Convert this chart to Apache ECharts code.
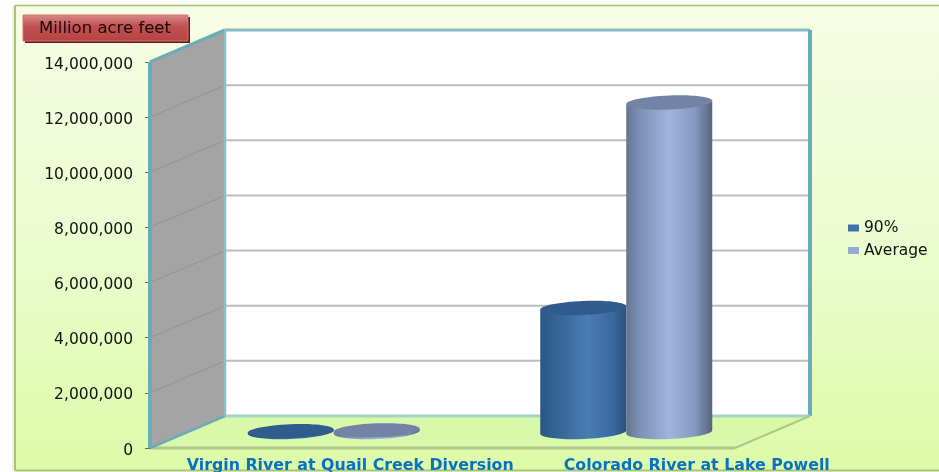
<!DOCTYPE html>
<html><head><meta charset="utf-8">
<style>html,body{margin:0;padding:0;background:#fff}#c{width:939px;height:472px;filter:blur(0.45px)}</style>
<script src="https://cdn.jsdelivr.net/npm/echarts@6/dist/echarts.min.js"></script>
</head><body><div id="c"></div>
<script>
const categories = ['Virgin River at Quail Creek Diversion', 'Colorado River at Lake Powell'];
const seriesNames = ['90%', 'Average'];
const values90 = [30000, 4500000];
const valuesAverage = [60000, 11950000];
const yTicks = [0, 2000000, 4000000, 6000000, 8000000, 10000000, 12000000, 14000000];
const unitLabel = 'Million acre feet';

const DX = 75, DY = -32;            // depth of the 3D box in pixels
const RX = 43, RY = 7, TILT = 0.04;
const chart = echarts.init(document.getElementById('c'));

function lg(stops){
  return {type:'linear',x:0,y:0,x2:1,y2:0,colorStops:stops.map(s=>({offset:s[0],color:s[1]}))};
}
const looks = [
  {side: lg([[0,'#2b5585'],[0.12,'#30608f'],[0.55,'#4a7cb5'],[0.85,'#3a689f'],[1,'#2c4f7d']]), top:'#2f5c8c', legend:'#4472A8', off:-RX},
  {side: lg([[0,'#63748f'],[0.14,'#7a8fb2'],[0.5,'#9fb5de'],[0.8,'#8499bf'],[1,'#56647e']]), top:'#7284a6', legend:'#95ABD5', off:RX}
];

function wallItem(params, api){
  const a = api.coord([0, 14000000]), b = api.coord([0, 0]);
  const xf = params.coordSys.x, xr = xf + params.coordSys.width;
  const yt = a[1], yb = b[1];
  const teal = '#6bacb9';
  return {type:'group', silent:true, children:[
    {type:'polygon', shape:{points:[[xf+DX,yt+DY],[xr+DX,yt+DY],[xr+DX,yb+DY],[xf+DX,yb+DY]]}, style:{fill:'#ffffff'}},
    {type:'polygon', shape:{points:[[xf,yb],[xf+DX,yb+DY],[xr+DX,yb+DY],[xr,yb]]}, style:{fill:'#d8f9aa'}},
    {type:'polygon', shape:{points:[[xf,yt],[xf+DX,yt+DY],[xf+DX,yb+DY],[xf,yb]]}, style:{fill:'#a4a4a4'}},
    {type:'line', shape:{x1:xf+DX,y1:yt+DY,x2:xr+DX,y2:yt+DY}, style:{stroke:'#86bcc2',lineWidth:3}},
    {type:'line', shape:{x1:xr+DX,y1:yt+DY,x2:xr+DX,y2:yb+DY}, style:{stroke:teal,lineWidth:4}},
    {type:'line', shape:{x1:xf+DX,y1:yb+DY,x2:xr+DX,y2:yb+DY}, style:{stroke:'#a4d4c4',lineWidth:3}},
    {type:'line', shape:{x1:xr+DX,y1:yb+DY,x2:xr,y2:yb}, style:{stroke:'#aec886',lineWidth:2}},
    {type:'line', shape:{x1:xf,y1:yb,x2:xr,y2:yb}, style:{stroke:'#b4c68c',lineWidth:3}},
    {type:'line', shape:{x1:xf,y1:yt,x2:xf,y2:yb}, style:{stroke:teal,lineWidth:4}},
    {type:'line', shape:{x1:xf,y1:yt,x2:xf+DX,y2:yt+DY}, style:{stroke:teal,lineWidth:3.5}},
    {type:'line', shape:{x1:xf,y1:yb,x2:xf+DX,y2:yb+DY}, style:{stroke:teal,lineWidth:2.5}},
    {type:'line', shape:{x1:xf+DX,y1:yt+DY,x2:xf+DX,y2:yb+DY}, style:{stroke:'#8cc0c8',lineWidth:2.5}}
  ]};
}
function gridItem(params, api){
  const v = api.value(0);
  if (v === 0 || v === 14000000) return null;
  const y = api.coord([0, v])[1];
  const xf = params.coordSys.x, xr = xf + params.coordSys.width;
  return {type:'group', silent:true, children:[
    {type:'line', shape:{x1:xf+2,y1:y-1,x2:xf+DX-2,y2:y+DY+1}, style:{stroke:'#939393',lineWidth:1}},
    {type:'line', shape:{x1:xf+DX+1,y1:y+DY,x2:xr+DX-2,y2:y+DY}, style:{stroke:'#bdbdbd',lineWidth:2}}
  ]};
}
function cylinder(look){
  return function(params, api){
    const top = api.coord([api.value(0), api.value(1)]);
    const base = api.coord([api.value(0), 0]);
    const cx = top[0] + DX/2 + look.off;
    const yt = top[1] + DY/2, yb = base[1] + DY/2;
    const d = RX * TILT;
    return {type:'group', children:[
      {type:'ellipse', shape:{cx:cx,cy:yb,rx:RX,ry:RY}, rotation:TILT, originX:cx, originY:yb, style:{fill:look.side}},
      {type:'polygon', shape:{points:[[cx-RX,yt+d],[cx+RX,yt-d],[cx+RX,yb-d],[cx-RX,yb+d]]}, style:{fill:look.side}},
      {type:'ellipse', shape:{cx:cx,cy:yt,rx:RX,ry:RY}, rotation:TILT, originX:cx, originY:yt, style:{fill:look.top}}
    ]};
  };
}

const frame = '#a9c46e';
chart.setOption({
  animation:false,
  backgroundColor:'transparent',
  textStyle:{fontFamily:'DejaVu Sans'},
  grid:{left:150, top:62, width:585, height:386, containLabel:false, outerBoundsMode:'none'},
  legend:{
    data:seriesNames, orient:'vertical', left:843, top:215, itemWidth:11, itemHeight:7, itemGap:6.5,
    selectedMode:false, icon:'rect',
    textStyle:{color:'#111', fontSize:15.5, fontFamily:'DejaVu Sans'}
  },
  xAxis:{
    type:'category', data:categories,
    axisLine:{show:false}, axisTick:{show:false},
    axisLabel:{
      interval:0, margin:10, hideOverlap:false,
      formatter:(v,i)=>`{c${i}|${v}}`,
      rich:{
        c0:{color:'#0a70c4',fontWeight:'bold',fontSize:15.8,fontFamily:'DejaVu Sans',padding:[0,0,0,108]},
        c1:{color:'#0a70c4',fontWeight:'bold',fontSize:15.8,fontFamily:'DejaVu Sans',padding:[0,0,0,216]}
      }
    }
  },
  yAxis:{
    type:'value', min:0, max:14000000, interval:2000000,
    axisLine:{show:false},
    axisTick:{show:true,length:5,lineStyle:{color:'#666',width:1}},
    splitLine:{show:false},
    axisLabel:{margin:17,
      formatter:v=>`{t|${v.toLocaleString('en-US')}}`,
      rich:{t:{color:'#111',fontSize:15.5,fontFamily:'DejaVu Sans',padding:[5,0,0,0]}}}
  },
  graphic:[
    {type:'rect', z:-11, shape:{x:12,y:5,width:927,height:466,r:[4,0,0,4]}, silent:true, style:{fill:'#efefec'}},
    {type:'rect', z:-10, shape:{x:15,y:5.5,width:924,height:465,r:[4,0,0,4]}, silent:true,
     style:{fill:{type:'linear',x:0,y:0,x2:0,y2:1,colorStops:[
       {offset:0,color:'#f6fde4'},{offset:0.5,color:'#ecfcd0'},{offset:1,color:'#dcfba8'}]}}},
    {type:'line', z:-9, shape:{x1:15,y1:5.5,x2:939,y2:5.5}, silent:true, style:{stroke:frame,lineWidth:1.5}},
    {type:'line', z:-9, shape:{x1:15,y1:5.5,x2:15,y2:470.5}, silent:true, style:{stroke:frame,lineWidth:2}},
    {type:'line', z:-9, shape:{x1:15,y1:470.5,x2:939,y2:470.5}, silent:true, style:{stroke:frame,lineWidth:2}},
    {type:'rect', z:20, shape:{x:25,y:17,width:165,height:26}, style:{fill:'#621a18'}},
    {type:'rect', z:21, shape:{x:23,y:15,width:165,height:26},
     style:{stroke:'#d07070',lineWidth:1,fill:{type:'linear',x:0,y:0,x2:0,y2:1,colorStops:[
       {offset:0,color:'#d98a8a'},{offset:0.45,color:'#c05050'},{offset:1,color:'#b84444'}]}}},
    {type:'text', z:22, style:{x:105,y:29,text:unitLabel,fill:'#1a0808',align:'center',verticalAlign:'middle',font:'16.5px "DejaVu Sans"'}}
  ],
  series:[
    {type:'custom', name:'walls', z:1, silent:true, renderItem:wallItem, data:[0], encode:{x:0,y:0}, clip:false},
    {type:'custom', name:'grid', z:2, silent:true, renderItem:gridItem, data:yTicks.map(v=>[v]), clip:false},
    {type:'custom', name:seriesNames[0], z:3, renderItem:cylinder(looks[0]), clip:false,
     itemStyle:{color:looks[0].legend}, encode:{x:0,y:1}, data:values90.map((v,i)=>[i,v])},
    {type:'custom', name:seriesNames[1], z:4, renderItem:cylinder(looks[1]), clip:false,
     itemStyle:{color:looks[1].legend}, encode:{x:0,y:1}, data:valuesAverage.map((v,i)=>[i,v])}
  ]
});
</script></body></html>
